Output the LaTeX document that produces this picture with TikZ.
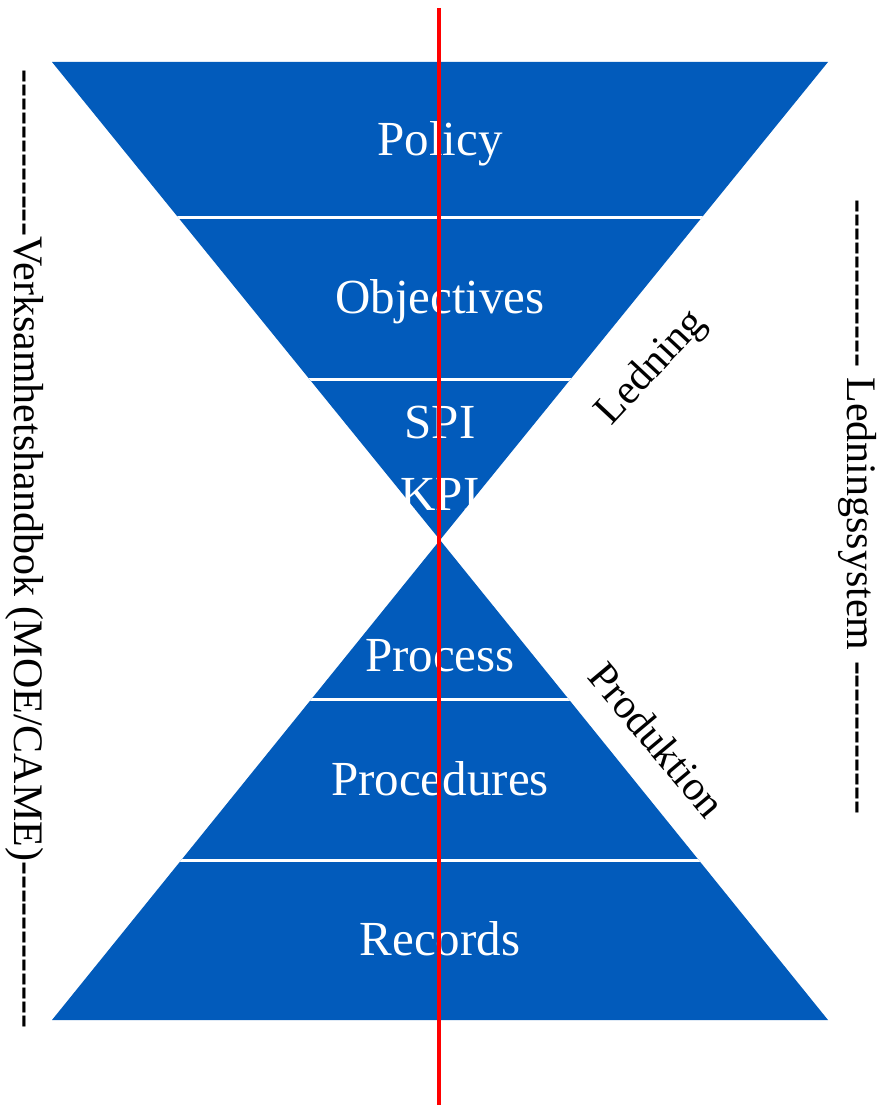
\documentclass[tikz,border=0pt]{standalone}
\usepackage{fontspec}
\setmainfont{Liberation Serif}
\newfontfamily\sidefont{Liberation Serif}
\definecolor{hgblue}{RGB}{2,91,187}
\begin{document}
\begin{tikzpicture}[x=1pt,y=-1pt,
  band/.style={fill=hgblue,draw=none},
  sep/.style={draw=white,line width=3pt},
  lbl/.style={text=white,font=\fontsize{49}{55}\selectfont,inner sep=0pt,anchor=base},
  side/.style={text=black,font=\sidefont\fontsize{42}{48}\selectfont,inner sep=0pt},
  axis/.style={draw=red,line width=3.2pt}]
\useasboundingbox (0,0) rectangle (890,1105);
% hourglass
\fill[band] (52,62) -- (828,62) -- (440,540) -- cycle;
\fill[band] (52,1020) -- (828,1020) -- (440,540) -- cycle;
\begin{scope}
  \clip (52,62) -- (828,62) -- (440,540) -- cycle;
  \draw[sep] (0,217) -- (890,217);
  \draw[sep] (0,379) -- (890,379);
\end{scope}
\begin{scope}
  \clip (52,1020) -- (828,1020) -- (440,540) -- cycle;
  \draw[sep] (0,699) -- (890,699);
  \draw[sep] (0,860) -- (890,860);
\end{scope}
% labels
\node[lbl] (policy) at (440,155) {Policy};
\node[lbl] (obj) at (440,313) {Objectives};
\node[lbl] (spi) at (440,438) {SPI};
\node[lbl] (kpi) at (440,510) {KPI};
\node[lbl] (proc) at (440,671) {Process};
\node[lbl] (procs) at (440,795) {Procedures};
\node[lbl] (rec) at (440,955) {Records};
% diagonal labels
\node[side,rotate=47] (led) at (652,368) {Ledning};
\node[side,rotate=-50] (prod) at (657,740) {Produktion};
% side labels
\node[side,rotate=-90] (vh) at (25,549) {------------Verksamhetshandbok (MOE/CAME)------------};
\node[side,rotate=-90] (ls) at (858,507) {------------ Ledningssystem -----------};
% red axis
\coordinate (atop) at (439,8);
\coordinate (abot) at (439,1105);
\draw[axis] (atop) -- (abot);
\end{tikzpicture}
\end{document}
